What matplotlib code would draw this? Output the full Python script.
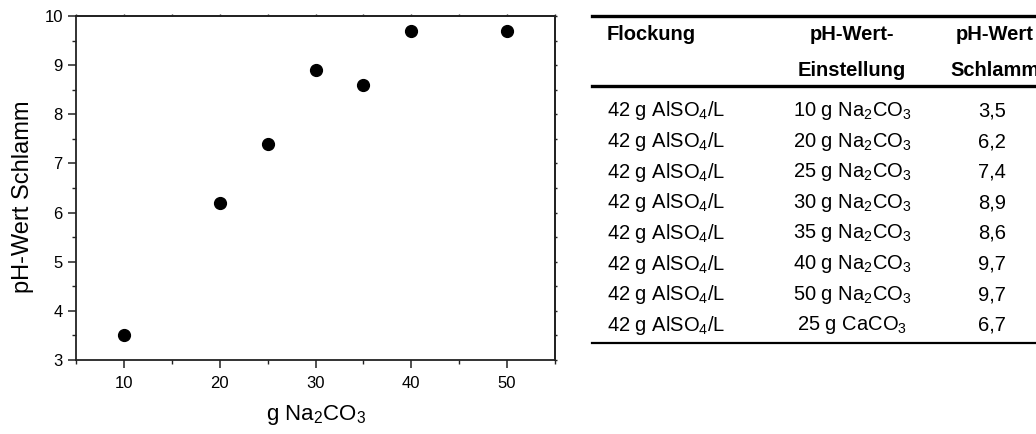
import matplotlib
matplotlib.use("Agg")
import matplotlib.pyplot as plt
from matplotlib.ticker import MultipleLocator
from matplotlib.lines import Line2D

plt.rcParams['font.family'] = ['Liberation Sans', 'DejaVu Sans']
plt.rcParams['mathtext.default'] = 'regular'

# ---- data ----
na2co3_g = [10, 20, 25, 30, 35, 40, 50]
ph_schlamm = [3.5, 6.2, 7.4, 8.9, 8.6, 9.7, 9.7]

tab_flockung = [r'42 g AlSO$_4$/L'] * 8
tab_einstellung = [r'10 g Na$_2$CO$_3$', r'20 g Na$_2$CO$_3$', r'25 g Na$_2$CO$_3$',
                   r'30 g Na$_2$CO$_3$', r'35 g Na$_2$CO$_3$', r'40 g Na$_2$CO$_3$',
                   r'50 g Na$_2$CO$_3$', r'25 g CaCO$_3$']
tab_ph = ['3,5', '6,2', '7,4', '8,9', '8,6', '9,7', '9,7', '6,7']
tab_header = ['Flockung', 'pH-Wert-\nEinstellung', 'pH-Wert\nSchlamm']

W, H = 1036, 434
fig = plt.figure(figsize=(W / 100, H / 100), dpi=100)

def fx(px):
    return px / W

def fy(py):
    return 1 - py / H

# ---- scatter chart ----
ax = fig.add_axes([fx(76), fy(360), fx(555) - fx(76), fy(16) - fy(360)])
ax.plot(na2co3_g, ph_schlamm, 'o', color='black', ms=8.5, ls='none')
ax.set_xlim(5, 55)
ax.set_ylim(3, 10)
ax.xaxis.set_major_locator(MultipleLocator(10))
ax.xaxis.set_minor_locator(MultipleLocator(5))
ax.yaxis.set_major_locator(MultipleLocator(1))
ax.yaxis.set_minor_locator(MultipleLocator(0.5))
spine_col = '#222222'
for s in ax.spines.values():
    s.set_linewidth(1.3)
    s.set_color(spine_col)
ax.tick_params(which='major', direction='out', length=5.5, width=1.1, labelsize=12,
               color=spine_col)
ax.tick_params(which='minor', direction='out', length=3, width=1.0, color=spine_col)
ax.tick_params(axis='x', pad=6)
ax.tick_params(axis='y', pad=4)

# short ticks on top and right
sx = ax.secondary_xaxis('top')
sx.xaxis.set_major_locator(MultipleLocator(5))
sx.tick_params(direction='out', length=1.5, width=1.0, labeltop=False, color=spine_col)
sy = ax.secondary_yaxis('right')
sy.yaxis.set_major_locator(MultipleLocator(0.5))
sy.tick_params(direction='out', length=1.5, width=1.0, labelright=False, color=spine_col)
for s in list(sx.spines.values()) + list(sy.spines.values()):
    s.set_linewidth(1.3)
    s.set_color(spine_col)

ax.set_xlabel(r'g Na$_2$CO$_3$', fontsize=16, labelpad=9)
ax.set_ylabel('pH-Wert Schlamm', fontsize=17)
ax.yaxis.set_label_coords(-0.088, 0.475)

# ---- table ----
fs = 14.5
col1_x = 607
col2_x = 852
col3_x = 992
hdr_y1, hdr_y2 = 34, 71
row_y0, row_dy = 111, 30.6
line_x0 = 592

fig.text(fx(col1_x), fy(hdr_y1), tab_header[0], fontsize=fs, fontweight='bold',
         ha='left', va='center')
h2a, h2b = tab_header[1].split('\n')
fig.text(fx(col2_x), fy(hdr_y1), h2a, fontsize=fs, fontweight='bold', ha='center', va='center')
fig.text(fx(col2_x), fy(hdr_y2), h2b, fontsize=fs, fontweight='bold', ha='center', va='center')
h3a, h3b = tab_header[2].split('\n')
fig.text(fx(995), fy(hdr_y1), h3a, fontsize=fs, fontweight='bold', ha='center', va='center')
fig.text(fx(995), fy(hdr_y2), h3b, fontsize=fs, fontweight='bold', ha='center', va='center')

for i in range(len(tab_ph)):
    y = row_y0 + i * row_dy
    fig.text(fx(col1_x), fy(y), tab_flockung[i], fontsize=fs, ha='left', va='center')
    fig.text(fx(col2_x), fy(y), tab_einstellung[i], fontsize=fs, ha='center', va='center')
    fig.text(fx(col3_x), fy(y), tab_ph[i], fontsize=fs, ha='center', va='center')

bottom_y = row_y0 + (len(tab_ph) - 1) * row_dy + 18
for yy, lw in [(16, 2.4), (86, 2.4), (bottom_y, 1.6)]:
    fig.add_artist(Line2D([fx(line_x0), 1.0], [fy(yy), fy(yy)], color='black', lw=lw,
                          transform=fig.transFigure))

fig.savefig('out.png', dpi=100)
